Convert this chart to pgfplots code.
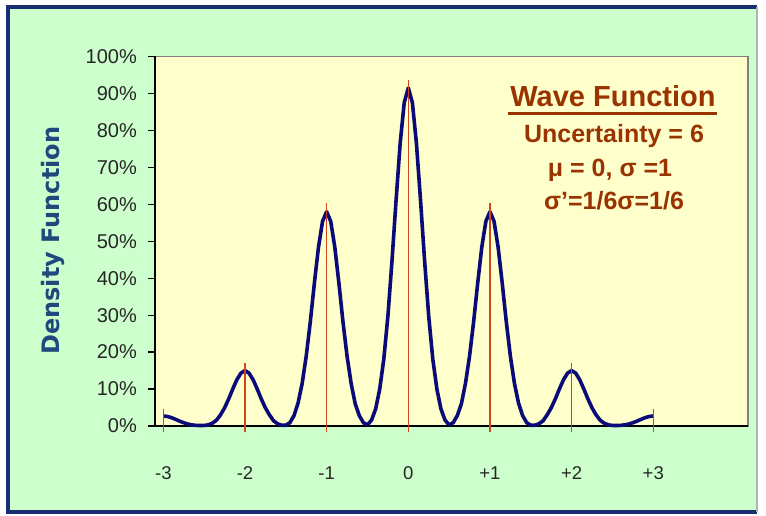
\documentclass[border=0pt]{standalone}
\usepackage{fontspec}
\setmainfont{Liberation Sans}
\newfontfamily\dejavu{DejaVu Sans}
\usepackage{pgfplots}
\pgfplotsset{compat=1.18}

\definecolor{greenbg}{RGB}{204,255,204}
\definecolor{yellowbg}{RGB}{255,255,204}
\definecolor{curve}{RGB}{10,10,120}
\definecolor{spike}{RGB}{210,70,30}
\definecolor{brownt}{RGB}{153,51,0}
\definecolor{frame}{RGB}{25,45,115}
\definecolor{ytitle}{RGB}{31,73,125}

\begin{document}
\begin{tikzpicture}[x=1pt,y=1pt]
% chart area (image is 766 x 516, 1px = 1pt)
\fill[white] (0,0) rectangle (766,516);
\path[use as bounding box] (0,0) rectangle (766,516);
\fill[greenbg] (8,4) rectangle (757,509);
\draw[frame, line width=4pt] (757,509) -- (8,509) -- (8,4) -- (757,4);
\draw[gray!60, line width=1.5pt] (757,4) -- (757,509);

\begin{axis}[
    at={(155pt,90pt)}, anchor=south west,
    width=593pt, height=369.5pt, scale only axis,
    xmin=-3.102, xmax=4.16,
    ymin=0, ymax=100,
    clip=false,
    axis x line*=bottom, axis y line*=left,
    axis line style={-, black, line width=1.5pt},
    axis background/.style={fill=yellowbg, draw=gray, line width=1.5pt},
    tick pos=left, tick align=outside, major tick length=7pt,
    xtick={-3,-2,-1,0,1,2,3},
    xticklabels={-3,-2,-1,0,+1,+2,+3},
    xtick style={draw=none},
    xticklabel style={font=\fontsize{18.5}{20}\selectfont, text=black!85, anchor=base, inner sep=0pt, yshift=-46.5pt},
    ytick={0,10,...,100},
    yticklabels={0\%,10\%,20\%,30\%,40\%,50\%,60\%,70\%,80\%,90\%,100\%},
    ytick style={black, line width=1.2pt},
    yticklabel style={font=\fontsize{20}{22}\selectfont, text=black!85, anchor=east, inner sep=0pt, xshift=-11pt},
]
% wave function density (%)
\addplot[curve, line width=3.6pt, line join=round] coordinates {
(-3.00,2.70) (-2.95,2.58) (-2.90,2.25) (-2.85,1.80) (-2.80,1.31) (-2.75,0.88)
(-2.70,0.53) (-2.65,0.30) (-2.60,0.17) (-2.55,0.13) (-2.50,0.15) (-2.45,0.30)
(-2.40,0.75) (-2.35,1.55) (-2.30,3.0) (-2.25,4.9) (-2.20,7.3) (-2.15,10.0)
(-2.10,12.5) (-2.05,14.3) (-2.00,15.0) (-1.95,14.3) (-1.90,12.5) (-1.85,10.0)
(-1.80,7.3) (-1.75,4.9) (-1.70,3.0) (-1.65,1.4) (-1.60,0.6) (-1.55,0.2)
(-1.50,0.2) (-1.45,0.9) (-1.40,2.8) (-1.35,6.2) (-1.30,11.5) (-1.25,18.9)
(-1.20,28.2) (-1.15,38.7) (-1.10,48.4) (-1.05,55.4) (-1.00,58.0) (-0.95,55.4)
(-0.90,48.4) (-0.85,38.7) (-0.80,28.2) (-0.75,18.9) (-0.70,11.5) (-0.65,6.0)
(-0.60,2.8) (-0.55,0.9) (-0.50,0.3) (-0.45,1.6) (-0.40,4.6) (-0.35,10.0)
(-0.30,18.1) (-0.25,29.7) (-0.20,44.6) (-0.15,61.0) (-0.10,76.4) (-0.05,87.5)
(0.00,91.5)
(0.05,87.5) (0.10,76.4) (0.15,61.0) (0.20,44.6) (0.25,29.7) (0.30,18.1)
(0.35,10.0) (0.40,4.6) (0.45,1.6) (0.50,0.3) (0.55,0.9) (0.60,2.8)
(0.65,6.0) (0.70,11.5) (0.75,18.9) (0.80,28.2) (0.85,38.7) (0.90,48.4)
(0.95,55.4) (1.00,58.0) (1.05,55.4) (1.10,48.4) (1.15,38.7) (1.20,28.2)
(1.25,18.9) (1.30,11.5) (1.35,6.2) (1.40,2.8) (1.45,0.9) (1.50,0.2)
(1.55,0.2) (1.60,0.6) (1.65,1.4) (1.70,3.0) (1.75,4.9) (1.80,7.3)
(1.85,10.0) (1.90,12.5) (1.95,14.3) (2.00,15.0) (2.05,14.3) (2.10,12.5)
(2.15,10.0) (2.20,7.3) (2.25,4.9) (2.30,3.0) (2.35,1.55) (2.40,0.75)
(2.45,0.30) (2.50,0.15) (2.55,0.13) (2.60,0.17) (2.65,0.30) (2.70,0.53)
(2.75,0.88) (2.80,1.31) (2.85,1.80) (2.90,2.25) (2.95,2.58) (3.00,2.70)
};
% red marker lines at each integer
\addplot[spike, line width=1.5pt, unbounded coords=jump] coordinates {
(-3,-1.7) (-3,4.5) (nan,nan)
(-2,-1.7) (-2,17.0) (nan,nan)
(-1,-1.7) (-1,60.3) (nan,nan)
(0,-1.7) (0,93.6) (nan,nan)
(1,-1.7) (1,60.3) (nan,nan)
(2,-1.7) (2,17.0) (nan,nan)
(3,-1.7) (3,4.5)
};
\end{axis}

% y axis title
\node[rotate=90, text=ytitle, font=\dejavu\bfseries\fontsize{24}{26}\selectfont] at (53,275.3) {Density Function};

% annotation block
\node[anchor=base, text=brownt, font=\bfseries\fontsize{29}{32}\selectfont] at (613,409) {Wave Function};
\draw[brownt, line width=3pt] (508,402.7) -- (717,402.7);
\node[anchor=base, text=brownt, font=\bfseries\fontsize{25}{28}\selectfont] at (614,373) {Uncertainty = 6};
\node[anchor=base, text=brownt, font=\bfseries\fontsize{25}{28}\selectfont] at (610,339) {μ = 0, σ =1};
\node[anchor=base, text=brownt, font=\bfseries\fontsize{25}{28}\selectfont] at (614,306) {σ’=1/6σ=1/6};
\end{tikzpicture}
\end{document}
